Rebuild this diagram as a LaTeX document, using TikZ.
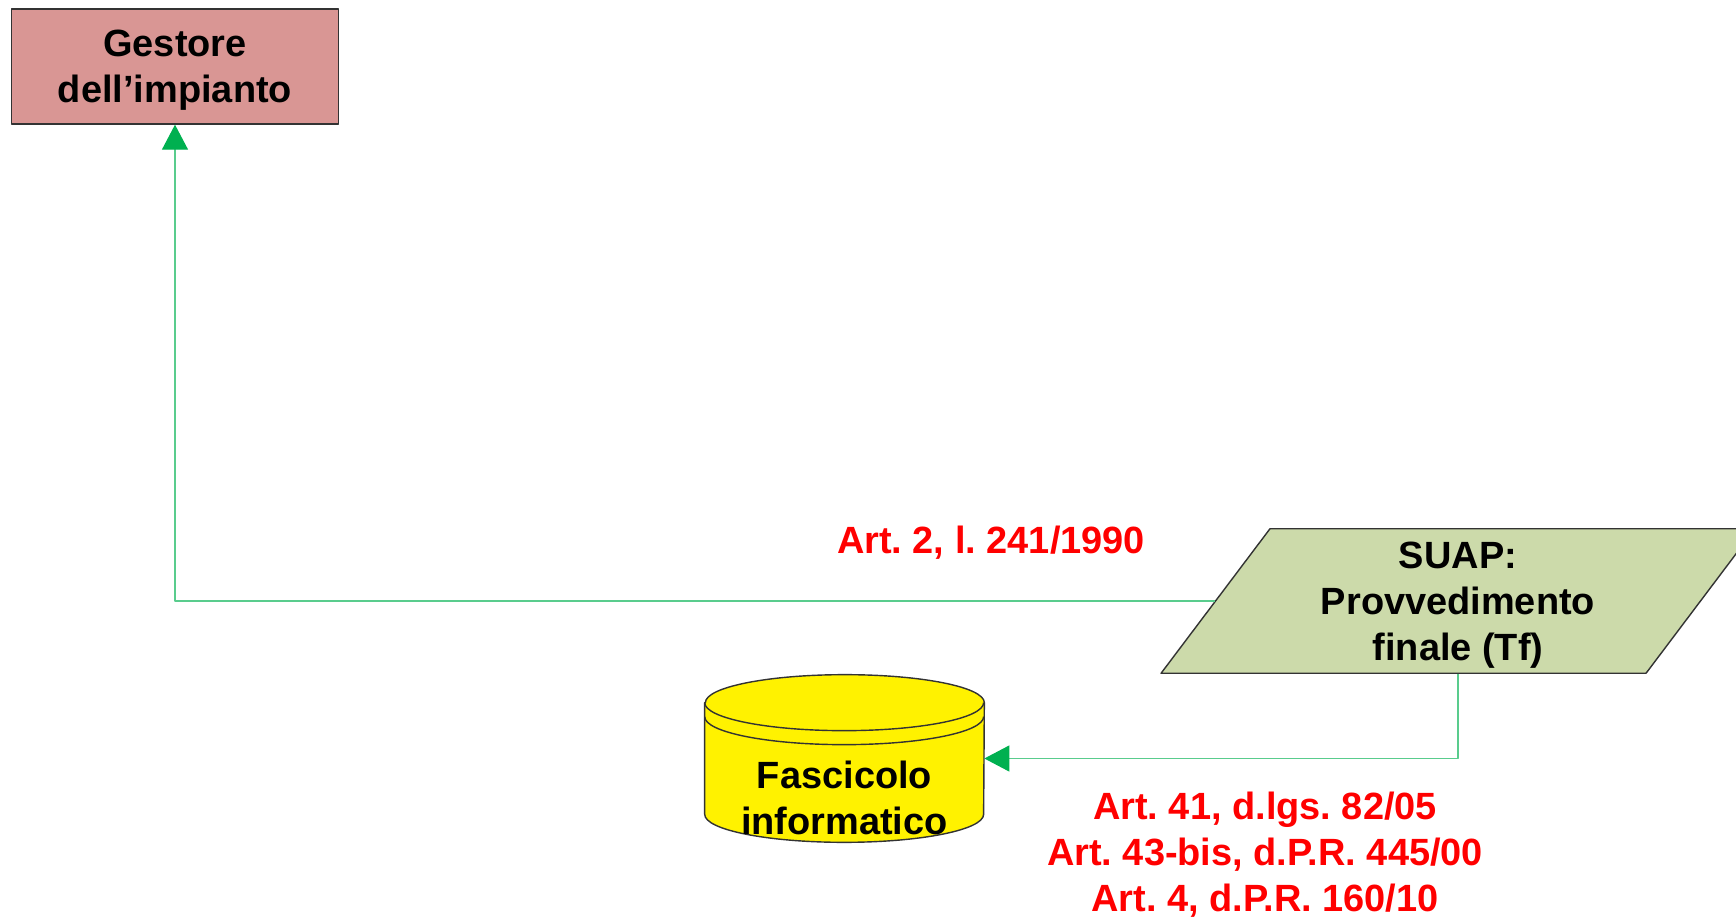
\documentclass[tikz,border=0pt]{standalone}
\usepackage{fontspec}
\setmainfont{Liberation Sans}
\frenchspacing
\usetikzlibrary{arrows.meta}
\usetikzlibrary{shapes.geometric}
\definecolor{gestred}{RGB}{217,150,148}
\definecolor{suapgreen}{RGB}{204,218,170}
\definecolor{flowgreen}{RGB}{0,176,80}
\definecolor{lawred}{RGB}{255,0,0}
\tikzset{t/.style={font=\fontsize{21.6}{26.2}\selectfont\bfseries, align=center}}
\tikzset{law/.style={t, text=lawred}}
\tikzset{box/.style={draw=black!80, line width=0.8pt}}
\tikzset{flow/.style={draw=flowgreen!65, line width=0.7pt, -{Triangle[length=0.5cm,width=0.52cm,color=flowgreen]}}}

\begin{document}
\begin{tikzpicture}[x=0.02cm,y=0.02cm,line join=round]
  \useasboundingbox (0,0) rectangle (1736,916);
  \node[t, box, fill=gestred, text depth=0pt, minimum width=6.54cm, minimum height=2.3cm] (gest) at (175,849.5) {Gestore\\dell’impianto};
  \node[t, box, trapezium, trapezium left angle=53, trapezium right angle=127, trapezium stretches body,
        fill=suapgreen, text depth=0pt, minimum width=11.88cm, inner xsep=0pt, inner ysep=0.26cm] (suap) at (1458,315) {SUAP:\\Provvedimento\\finale (Tf)};
  % database cylinder
  \node[minimum width=5.58cm, minimum height=2.22cm, inner sep=0pt] (fasc) at (844.5,157.5) {};
  \filldraw[box, fill=yellow] (fasc.north west) -- (fasc.south west)
    arc[start angle=180, end angle=360, x radius=2.79cm, y radius=0.56cm] -- (fasc.north east)
    arc[start angle=0, end angle=180, x radius=2.79cm, y radius=0.56cm] -- cycle;
  \draw[box] (fasc.north west) arc[start angle=180, end angle=360, x radius=2.79cm, y radius=0.56cm];
  \draw[box] ([yshift=-0.28cm]fasc.north west) arc[start angle=180, end angle=360, x radius=2.79cm, y radius=0.56cm];
  \node[t] (fasclab) at (844.5,118.5) {Fascicolo\\informatico};
  \node[law] (law1) at (991,373.5) {Art. 2, l. 241/1990};
  \node[law] (law2) at (1265,61.5) {Art. 41, d.lgs. 82/05\\Art. 43-bis, d.P.R. 445/00\\Art. 4, d.P.R. 160/10};
  \draw[flow] (suap.west) -| (gest.south);
  \draw[flow] (suap.center |- suap.bottom side) |- (fasc.east);
\end{tikzpicture}
\end{document}
